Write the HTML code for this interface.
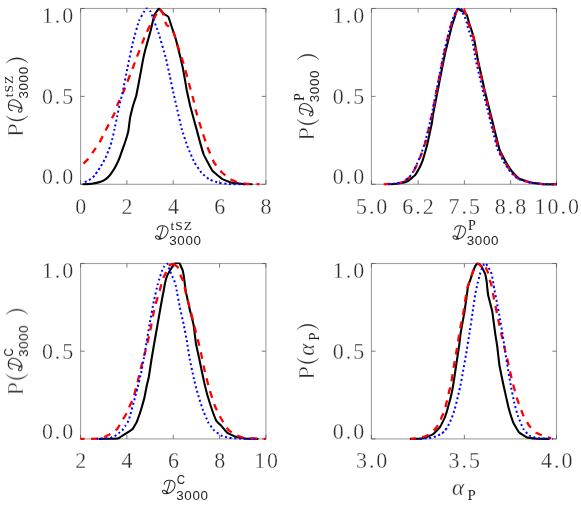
<!DOCTYPE html>
<html><head><meta charset="utf-8"><title>posteriors</title>
<style>html,body{margin:0;padding:0;background:#fff;}svg{display:block;}.t text{font-family:'Liberation Serif', serif;fill:#2a2a2a;stroke:#fff;stroke-width:0.3;}.t .sf{font-family:'Liberation Sans', sans-serif;stroke:none;fill:#242424;}.t .sm{stroke:none;fill:#1e1e1e;}.t .bp{stroke-width:0.6;}</style>
</head><body>
<svg width="581" height="508" viewBox="0 0 581 508">
<rect width="581" height="508" fill="#fff"/>
<defs>
<filter id="gray" filterUnits="userSpaceOnUse" x="0" y="0" width="581" height="508" color-interpolation-filters="sRGB"><feColorMatrix type="saturate" values="0"/></filter>
<path id="sD" fill="none" stroke="#2a2a2a" stroke-width="1.05" stroke-linecap="round" stroke-linejoin="round" d="M2.39,4.78 C2.11,2.55 4.16,0.87 7.32,0.78 C10.67,0.69 13.27,2.55 13.18,5.71 C13.08,9.43 9.92,13.15 6.02,14.08 C3.60,14.64 1.09,14.08 0.62,12.50 C0.34,11.29 1.55,10.54 2.76,11.10 C4.16,11.75 4.90,13.15 6.39,13.71 M8.25,1.06 C7.69,4.22 6.39,9.06 4.34,13.89"/>
<path id="pL" fill="#2a2a2a" stroke="#2a2a2a" stroke-width="0.3" stroke-linejoin="round" d="M5.20,-16.90 C-1.77,-11.26 -1.77,-0.64 5.20,5.00 C-0.24,-0.64 -0.24,-11.26 5.20,-16.90Z"/>
<path id="pR" fill="#2a2a2a" stroke="#2a2a2a" stroke-width="0.3" stroke-linejoin="round" d="M0,-16.90 C6.97,-11.26 6.97,-0.64 0,5.00 C5.44,-0.64 5.44,-11.26 0,-16.90Z"/>
</defs>
<rect x="80.56" y="8.50" width="185.34" height="175.80" fill="none" stroke="#a2a2a2" stroke-width="1.15"/>
<path d="M80.56,8.50v4.1M80.56,184.30v-4.1M126.89,8.50v4.1M126.89,184.30v-4.1M173.23,8.50v4.1M173.23,184.30v-4.1M219.56,8.50v4.1M219.56,184.30v-4.1M265.90,8.50v4.1M265.90,184.30v-4.1M80.56,8.50h4.1M265.90,8.50h-4.1M80.56,96.40h4.1M265.90,96.40h-4.1M80.56,184.30h4.1M265.90,184.30h-4.1" fill="none" stroke="#5c5c5c" stroke-width="0.8"/>
<rect x="371.45" y="8.50" width="185.05" height="175.80" fill="none" stroke="#a2a2a2" stroke-width="1.15"/>
<path d="M371.45,8.50v4.1M371.45,184.30v-4.1M418.11,8.50v4.1M418.11,184.30v-4.1M464.38,8.50v4.1M464.38,184.30v-4.1M510.64,8.50v4.1M510.64,184.30v-4.1M556.50,8.50v4.1M556.50,184.30v-4.1M371.45,8.50h4.1M556.50,8.50h-4.1M371.45,96.40h4.1M556.50,96.40h-4.1M371.45,184.30h4.1M556.50,184.30h-4.1" fill="none" stroke="#5c5c5c" stroke-width="0.8"/>
<rect x="80.56" y="263.50" width="185.34" height="175.40" fill="none" stroke="#a2a2a2" stroke-width="1.15"/>
<path d="M80.56,263.50v4.1M80.56,438.90v-4.1M126.89,263.50v4.1M126.89,438.90v-4.1M173.23,263.50v4.1M173.23,438.90v-4.1M219.56,263.50v4.1M219.56,438.90v-4.1M265.90,263.50v4.1M265.90,438.90v-4.1M80.56,263.50h4.1M265.90,263.50h-4.1M80.56,351.20h4.1M265.90,351.20h-4.1M80.56,438.90h4.1M265.90,438.90h-4.1" fill="none" stroke="#5c5c5c" stroke-width="0.8"/>
<rect x="371.45" y="263.50" width="185.05" height="175.40" fill="none" stroke="#a2a2a2" stroke-width="1.15"/>
<path d="M371.45,263.50v4.1M371.45,438.90v-4.1M464.38,263.50v4.1M464.38,438.90v-4.1M556.50,263.50v4.1M556.50,438.90v-4.1M371.45,263.50h4.1M556.50,263.50h-4.1M371.45,351.20h4.1M556.50,351.20h-4.1M371.45,438.90h4.1M556.50,438.90h-4.1" fill="none" stroke="#5c5c5c" stroke-width="0.8"/>
<clipPath id="cp1"><rect x="79.6" y="7.6" width="186.9" height="178.1"/></clipPath>
<g fill="none" stroke-linejoin="round" clip-path="url(#cp1)">
<path stroke="#000" stroke-width="2.1" stroke-linecap="round" d="M83.4,184.3 C83.7,184.3 91.1,183.9 91.8,183.8 C92.5,183.7 100.1,182.0 100.7,181.8 C101.3,181.6 105.7,179.2 106.1,178.9 C106.5,178.6 110.2,174.8 110.5,174.4 C110.8,174.0 114.1,169.0 114.4,168.5 C114.7,168.0 117.6,162.3 117.9,161.7 C118.2,161.1 121.1,153.4 121.3,152.8 C121.5,152.2 123.6,146.4 123.8,145.9 C124.0,145.4 125.6,140.6 125.8,140.0 C126.0,139.4 128.1,132.2 128.3,131.3 C128.5,130.4 129.9,118.6 130.1,117.6 C130.3,116.6 132.5,107.6 132.7,106.7 C132.9,105.8 136.0,96.9 136.3,95.5 C136.6,94.1 140.7,72.7 141.0,70.9 C141.3,69.1 144.5,52.8 144.9,51.2 C145.3,49.6 149.9,33.4 150.3,32.0 C150.7,30.6 154.0,16.0 154.3,15.1 C154.6,14.2 158.5,8.6 158.9,8.6 C159.3,8.6 163.9,13.8 164.3,14.1 C164.7,14.4 168.1,16.3 168.4,16.9 C168.7,17.5 172.3,28.7 172.6,29.6 C172.9,30.5 175.6,38.2 175.9,39.4 C176.2,40.6 180.4,57.5 180.8,59.1 C181.2,60.7 184.6,77.6 184.8,78.8 C185.0,80.0 186.5,88.9 186.7,90.0 C186.9,91.1 189.8,104.4 190.2,106.0 C190.6,107.6 196.1,127.5 196.6,129.4 C197.1,131.3 202.9,152.3 203.5,154.0 C204.1,155.7 211.6,169.7 212.3,170.7 C213.0,171.7 221.5,178.5 222.2,179.0 C222.9,179.5 230.3,182.3 231.0,182.5 C231.7,182.7 240.1,183.6 240.9,183.7 C241.7,183.8 251.3,184.3 251.7,184.3"/>
<path stroke="#ff0000" stroke-width="2.3" stroke-dasharray="6.9 6.5" stroke-dashoffset="0.0" d="M83.5,163.6 C83.7,163.4 88.0,159.1 88.4,158.7 C88.8,158.3 92.0,153.4 92.3,153.0 C92.6,152.6 95.4,148.5 95.7,148.1 C96.0,147.7 99.3,142.9 99.7,142.2 C100.1,141.5 104.9,131.7 105.5,130.6 C106.1,129.5 113.9,114.7 114.4,113.6 C114.9,112.5 117.6,104.4 118.0,103.5 C118.4,102.6 123.5,91.7 124.2,90.0 C124.9,88.3 134.2,64.2 135.0,62.0 C135.8,59.8 144.3,37.6 145.0,36.0 C145.7,34.4 151.5,22.1 151.9,21.3 C152.3,20.5 154.7,17.3 155.0,16.8 C155.3,16.3 159.0,8.9 159.4,8.8 C159.8,8.7 163.6,14.7 163.8,15.2 C164.0,15.7 165.3,21.5 165.4,21.9 C165.5,22.3 166.7,25.1 166.8,25.3 C166.9,25.5 168.7,26.5 169.0,26.7 C169.3,26.9 172.9,30.6 173.3,31.5 C173.7,32.4 178.5,48.1 178.9,49.3 C179.3,50.5 182.4,59.9 182.8,61.1 C183.2,62.3 187.3,77.2 187.7,78.8 C188.1,80.4 193.3,99.3 193.6,100.5 C193.9,101.7 195.3,108.5 195.6,109.7 C195.9,110.9 201.0,127.9 201.5,129.4 C202.0,130.9 206.9,145.8 207.4,147.1 C207.9,148.4 213.7,161.8 214.3,162.8 C214.9,163.8 220.6,171.1 221.2,171.7 C221.8,172.3 228.4,178.2 229.0,178.6 C229.6,179.0 236.3,181.9 236.9,182.1 C237.5,182.3 243.9,183.6 244.8,183.7 C245.7,183.8 259.0,184.3 259.6,184.3"/>
<path stroke="#0000ff" stroke-width="2.0" stroke-dasharray="2 2.7" stroke-dashoffset="3.5" d="M83.7,182.5 C83.9,182.4 87.4,181.0 87.7,180.8 C88.0,180.6 91.5,178.8 91.8,178.6 C92.1,178.4 94.6,175.2 94.8,174.9 C95.0,174.6 97.3,171.8 97.5,171.5 C97.7,171.2 99.8,167.9 100.0,167.6 C100.2,167.3 102.2,163.9 102.4,163.6 C102.6,163.3 104.6,159.8 104.8,159.5 C105.0,159.2 106.5,155.6 106.6,155.3 C106.7,155.0 108.2,151.3 108.3,151.0 C108.4,150.7 109.9,147.1 110.0,146.7 C110.1,146.3 111.3,142.9 111.5,142.2 C111.7,141.5 114.2,130.9 114.4,129.8 C114.6,128.7 117.1,116.7 117.3,115.6 C117.5,114.5 119.8,103.9 120.0,103.0 C120.2,102.1 122.4,93.4 122.7,92.0 C123.0,90.6 127.2,69.0 127.6,67.0 C128.0,65.0 132.6,43.3 133.1,41.4 C133.6,39.5 138.5,22.0 139.0,20.7 C139.5,19.4 145.6,9.1 145.9,8.6 C146.2,8.1 147.3,8.3 147.5,8.4 C147.7,8.5 150.4,10.9 150.8,11.9 C151.2,12.9 158.1,31.7 158.7,33.5 C159.3,35.3 165.1,55.4 165.6,57.1 C166.1,58.8 169.7,75.5 170.0,76.8 C170.3,78.1 172.5,88.8 172.8,90.0 C173.1,91.2 176.0,104.4 176.4,106.0 C176.8,107.6 181.3,127.8 181.8,129.4 C182.3,131.0 187.2,145.8 187.7,147.1 C188.2,148.4 194.0,161.8 194.6,162.8 C195.2,163.8 200.9,172.0 201.5,172.7 C202.1,173.4 208.7,179.2 209.4,179.6 C210.1,180.0 218.4,182.7 219.2,182.9 C220.0,183.1 228.0,184.0 229.0,184.1 C230.0,184.2 244.2,184.4 244.8,184.4"/>
</g>
<clipPath id="cp2"><rect x="370.4" y="7.6" width="186.7" height="178.1"/></clipPath>
<g fill="none" stroke-linejoin="round" clip-path="url(#cp2)">
<path stroke="#000" stroke-width="2.1" stroke-linecap="round" d="M390.6,184.2 C391.0,184.2 399.3,183.4 400.0,183.3 C400.7,183.2 406.9,181.6 407.5,181.3 C408.1,181.0 414.6,175.7 415.1,175.1 C415.6,174.5 420.2,166.3 420.6,165.5 C421.0,164.7 423.9,156.6 424.1,155.8 C424.3,155.0 426.6,147.0 426.8,146.2 C427.0,145.4 429.1,136.1 429.3,135.2 C429.5,134.3 431.5,125.0 431.7,124.1 C431.9,123.2 433.0,114.7 433.2,113.6 C433.4,112.5 436.4,97.3 436.7,95.9 C437.0,94.5 439.7,80.5 440.0,78.8 C440.3,77.1 444.7,55.1 445.1,53.2 C445.5,51.3 450.0,33.3 450.3,32.0 C450.6,30.7 453.5,20.7 453.8,19.9 C454.1,19.1 456.4,11.5 456.6,11.0 C456.8,10.5 458.1,8.6 458.3,8.6 C458.5,8.6 460.5,10.5 460.7,10.6 C460.9,10.7 463.9,11.8 464.1,12.0 C464.3,12.2 466.7,14.7 466.9,15.1 C467.1,15.5 468.8,22.0 469.0,22.7 C469.2,23.4 471.9,31.3 472.1,32.0 C472.3,32.7 474.0,38.3 474.2,39.4 C474.4,40.5 477.4,57.6 477.7,59.1 C478.0,60.6 481.4,75.6 481.7,76.8 C482.0,78.0 484.3,89.0 484.6,90.3 C484.9,91.6 489.1,108.1 489.5,109.7 C489.9,111.3 494.0,127.8 494.4,129.4 C494.8,131.0 499.0,147.8 499.4,149.1 C499.8,150.4 504.8,160.0 505.3,160.9 C505.8,161.8 511.6,171.0 512.2,171.7 C512.8,172.4 518.6,178.2 519.1,178.6 C519.6,179.0 524.5,180.4 525.0,180.6 C525.5,180.8 532.1,182.8 532.8,182.9 C533.5,183.0 541.8,184.0 542.7,184.1 C543.6,184.2 555.9,184.4 556.5,184.4"/>
<path stroke="#ff0000" stroke-width="2.3" stroke-dasharray="6.9 6.5" stroke-dashoffset="13.3" d="M383.7,184.3 C384.2,184.3 394.2,183.7 395.0,183.6 C395.8,183.5 402.4,182.4 402.7,182.3"/>
<path stroke="#ff0000" stroke-width="2.3" stroke-dasharray="6.9 6.5" stroke-dashoffset="10.8" d="M402.7,182.3 C403.0,182.1 409.2,177.6 409.6,177.2 C410.0,176.8 412.8,172.8 413.1,172.3 C413.4,171.8 416.9,164.8 417.2,164.1 C417.5,163.4 421.0,155.3 421.3,154.4 C421.6,153.5 425.2,143.0 425.5,142.0 C425.8,141.0 428.7,129.1 428.9,128.3 C429.1,127.5 430.2,122.7 430.3,122.1 C430.4,121.5 432.0,114.6 432.2,113.6 C432.4,112.6 435.4,97.3 435.7,95.9 C436.0,94.5 438.7,80.5 439.0,78.8 C439.3,77.1 443.7,55.1 444.1,53.2 C444.5,51.3 448.9,33.3 449.2,32.0 C449.5,30.7 452.4,20.2 452.6,19.5 C452.8,18.8 454.6,15.2 454.8,14.8 C455.0,14.4 457.4,10.5 457.6,10.3 C457.8,10.1 459.3,8.8 459.5,8.7 C459.7,8.6 463.5,8.6 463.8,8.9 C464.1,9.2 466.0,14.6 466.2,15.1 C466.4,15.6 467.4,21.5 467.6,22.0 C467.8,22.5 469.8,27.0 470.0,27.5 C470.2,28.0 472.3,33.5 472.5,34.0 C472.7,34.5 474.1,40.0 474.3,41.0 C474.5,42.0 477.0,58.1 477.3,59.5 C477.6,60.9 480.9,75.8 481.2,77.0 C481.5,78.2 483.8,89.2 484.1,90.5 C484.4,91.8 488.4,108.4 488.8,110.0 C489.2,111.6 493.2,128.4 493.6,130.0 C494.0,131.6 498.1,147.7 498.5,149.0 C498.9,150.3 503.9,160.6 504.4,161.5 C504.9,162.4 510.7,171.5 511.3,172.2 C511.9,172.9 517.7,178.4 518.2,178.8 C518.7,179.2 524.4,181.0 525.0,181.2 C525.6,181.4 532.1,183.0 532.8,183.1 C533.5,183.2 541.8,184.0 542.7,184.1 C543.6,184.2 555.9,184.4 556.5,184.4"/>
<path stroke="#0000ff" stroke-width="2.0" stroke-dasharray="2 2.7" stroke-dashoffset="2.4" d="M386.0,184.3 C386.4,184.3 394.3,183.7 395.0,183.6 C395.7,183.5 401.8,182.6 402.4,182.3 C403.0,182.0 408.9,177.6 409.3,177.2 C409.7,176.8 412.5,172.8 412.8,172.3 C413.1,171.8 416.6,164.8 416.9,164.1 C417.2,163.4 420.7,155.3 421.0,154.4 C421.3,153.5 424.9,143.0 425.2,142.0 C425.5,141.0 428.4,129.1 428.6,128.3 C428.8,127.5 429.9,122.7 430.0,122.1 C430.1,121.5 431.7,114.6 431.9,113.6 C432.1,112.6 435.1,97.3 435.4,95.9 C435.7,94.5 438.4,80.5 438.7,78.8 C439.0,77.1 443.4,55.1 443.8,53.2 C444.2,51.3 448.5,33.0 448.8,32.0 C449.1,31.0 450.3,27.5 450.4,27.0 C450.5,26.5 452.0,21.0 452.1,20.6 C452.2,20.2 453.7,16.5 453.8,16.2 C453.9,15.9 455.3,12.7 455.5,12.4 C455.7,12.1 457.7,9.0 457.9,8.9 C458.1,8.8 461.2,8.7 461.4,8.9 C461.6,9.1 462.9,13.3 463.1,13.7 C463.3,14.1 465.1,17.6 465.2,17.9 C465.3,18.2 466.5,22.0 466.6,22.3 C466.7,22.6 467.5,26.2 467.6,26.5 C467.7,26.8 468.8,30.5 469.0,31.0 C469.2,31.5 472.0,38.9 472.3,40.0 C472.6,41.1 475.3,58.0 475.6,59.5 C475.9,61.0 479.4,75.8 479.7,77.0 C480.0,78.2 482.4,89.2 482.7,90.5 C483.0,91.8 487.2,108.4 487.6,110.0 C488.0,111.6 492.1,128.4 492.5,130.0 C492.9,131.6 497.1,147.7 497.5,149.0 C497.9,150.3 503.1,160.6 503.6,161.5 C504.1,162.4 510.0,171.5 510.6,172.2 C511.2,172.9 517.2,178.4 517.8,178.8 C518.4,179.2 524.4,181.0 525.0,181.2 C525.6,181.4 532.1,183.0 532.8,183.1 C533.5,183.2 541.8,184.0 542.7,184.1 C543.6,184.2 555.9,184.4 556.5,184.4"/>
</g>
<clipPath id="cp3"><rect x="79.6" y="262.6" width="186.9" height="177.7"/></clipPath>
<g fill="none" stroke-linejoin="round" clip-path="url(#cp3)">
<path stroke="#000" stroke-width="2.1" stroke-linecap="round" d="M99.6,438.9 C100.1,438.9 111.2,438.7 112.0,438.7 C112.8,438.7 118.3,438.4 118.6,438.3 C118.9,438.2 120.1,437.2 120.4,437.0 C120.7,436.8 126.4,433.1 126.9,432.8 C127.4,432.5 132.4,429.1 132.8,428.7 C133.2,428.3 136.6,422.4 136.9,421.6 C137.2,420.8 140.7,410.8 141.0,409.8 C141.3,408.8 144.4,397.8 144.6,396.8 C144.8,395.8 146.7,385.8 146.9,385.0 C147.1,384.2 148.6,378.0 148.8,377.0 C149.0,376.0 151.2,361.3 151.4,360.0 C151.6,358.7 153.9,345.4 154.1,344.0 C154.3,342.6 157.3,326.3 157.5,324.9 C157.7,323.5 159.9,311.2 160.1,310.0 C160.3,308.8 162.6,295.9 162.8,295.0 C163.0,294.1 164.2,287.8 164.3,287.1 C164.4,286.4 166.2,278.4 166.4,277.7 C166.6,277.0 169.5,271.3 169.8,270.8 C170.1,270.3 173.4,264.9 173.6,264.6 C173.8,264.3 175.1,263.1 175.3,263.0 C175.5,262.9 178.9,262.9 179.1,263.0 C179.3,263.1 180.1,264.3 180.2,264.6 C180.3,264.9 182.4,269.6 182.6,270.1 C182.8,270.6 183.9,277.0 184.0,277.7 C184.1,278.4 185.1,286.4 185.2,287.0 C185.3,287.6 185.8,291.6 186.0,292.5 C186.2,293.4 189.4,307.9 189.7,309.2 C190.0,310.5 193.4,323.5 193.6,324.9 C193.8,326.3 195.7,341.9 195.9,343.3 C196.1,344.7 199.2,358.4 199.5,360.0 C199.8,361.6 204.0,381.6 204.4,383.4 C204.8,385.2 209.9,403.5 210.4,405.0 C210.9,406.5 215.9,420.0 216.3,420.8 C216.7,421.6 220.8,425.2 221.2,425.7 C221.6,426.2 226.5,432.2 227.1,432.6 C227.7,433.0 234.3,436.3 235.0,436.5 C235.7,436.7 243.9,438.4 244.8,438.5 C245.7,438.6 257.1,438.9 257.6,438.9"/>
<path stroke="#ff0000" stroke-width="2.3" stroke-dasharray="6.9 6.5" stroke-dashoffset="2.9" d="M80.5,438.9 C81.3,438.9 98.9,438.7 100.0,438.6 C101.1,438.5 106.3,436.0 106.8,435.8 C107.3,435.6 112.3,433.1 112.7,432.8 C113.1,432.5 117.1,429.1 117.4,428.7 C117.7,428.3 120.7,423.3 121.0,422.8 C121.3,422.3 124.2,417.3 124.5,416.9 C124.8,416.5 127.3,412.0 127.5,411.6 C127.7,411.2 129.6,406.2 129.8,405.7 C130.0,405.2 132.6,400.3 132.8,399.8 C133.0,399.3 134.4,393.9 134.6,393.3 C134.8,392.7 136.7,385.4 137.0,384.4 C137.3,383.4 140.7,368.9 141.0,367.6 C141.3,366.3 144.5,354.4 144.9,353.0 C145.3,351.6 149.4,334.6 149.8,332.8 C150.2,331.0 154.3,308.9 154.7,307.2 C155.1,305.5 159.4,291.7 159.7,290.5 C160.0,289.3 163.0,278.4 163.3,277.7 C163.6,277.0 165.8,273.0 166.0,272.5 C166.2,272.0 168.8,266.4 169.1,266.0 C169.4,265.6 172.7,263.4 172.9,263.3"/>
<path stroke="#ff0000" stroke-width="2.3" stroke-dasharray="6.9 6.5" stroke-dashoffset="12.8" d="M172.9,263.3 C173.1,263.5 177.5,266.8 177.8,267.3 C178.1,267.8 180.0,274.1 180.2,274.6 C180.4,275.1 182.4,279.3 182.6,279.8 C182.8,280.3 184.4,286.0 184.5,286.5 C184.6,287.0 185.7,292.4 185.9,293.4 C186.1,294.4 190.4,309.8 190.7,311.1 C191.0,312.4 194.3,325.6 194.6,326.9 C194.9,328.2 198.2,341.5 198.5,342.6 C198.8,343.7 201.3,354.3 201.5,355.4 C201.7,356.5 204.1,368.2 204.4,369.6 C204.7,371.0 209.0,387.8 209.4,389.3 C209.8,390.8 214.8,405.8 215.3,407.0 C215.8,408.2 220.7,417.9 221.2,418.8 C221.7,419.7 227.5,429.0 228.1,429.6 C228.7,430.2 234.4,434.6 235.0,434.9 C235.6,435.2 242.1,437.4 242.8,437.5 C243.5,437.6 251.8,438.4 252.7,438.5 C253.6,438.6 265.5,438.9 266.0,438.9"/>
<path stroke="#0000ff" stroke-width="2.0" stroke-dasharray="2 2.7" stroke-dashoffset="0.4" d="M96.7,438.9 C97.1,438.9 105.5,438.5 106.0,438.5 C106.5,438.5 110.0,438.0 110.3,437.9 C110.6,437.8 114.2,436.6 114.5,436.4 C114.8,436.2 118.3,433.6 118.6,433.4 C118.9,433.2 121.9,430.8 122.2,430.5 C122.5,430.2 124.9,426.6 125.1,426.3 C125.3,426.0 127.3,423.1 127.5,422.8 C127.7,422.5 129.1,418.9 129.2,418.6 C129.3,418.3 130.3,414.8 130.4,414.5 C130.5,414.2 131.5,410.4 131.6,410.0 C131.7,409.6 132.7,406.0 132.8,405.7 C132.9,405.4 133.9,401.9 134.0,401.5 C134.1,401.1 135.0,397.2 135.1,396.8 C135.2,396.4 136.2,392.7 136.3,392.3 C136.4,391.9 137.3,388.8 137.5,388.0 C137.7,387.2 140.7,374.7 141.0,373.5 C141.3,372.3 143.5,360.0 143.9,358.0 C144.3,356.0 149.4,325.3 149.8,323.0 C150.2,320.7 153.5,302.9 153.8,301.3 C154.1,299.7 157.6,284.8 157.8,283.9 C158.0,283.0 159.0,279.9 159.1,279.6 C159.2,279.3 160.4,275.7 160.5,275.3 C160.6,274.9 161.9,271.1 162.0,270.8 C162.1,270.5 163.8,267.0 164.0,266.7 C164.2,266.4 167.1,263.5 167.3,263.6 C167.5,263.7 168.7,267.6 168.8,268.0 C168.9,268.4 170.5,272.3 170.7,272.7 C170.9,273.1 172.5,276.7 172.6,277.0 C172.7,277.3 174.3,280.8 174.4,281.1 C174.5,281.4 175.6,284.9 175.7,285.3 C175.8,285.7 176.4,289.1 176.6,290.0 C176.8,290.9 179.5,305.8 179.8,307.2 C180.1,308.6 183.5,323.5 183.8,324.9 C184.1,326.3 186.8,340.6 187.0,342.0 C187.2,343.4 189.4,357.6 189.7,359.0 C190.0,360.4 193.3,376.1 193.6,377.5 C193.9,378.9 197.2,391.9 197.6,393.2 C198.0,394.5 202.1,407.8 202.5,409.0 C202.9,410.2 207.9,421.8 208.4,422.7 C208.9,423.6 213.8,430.1 214.3,430.6 C214.8,431.1 220.6,435.2 221.2,435.5 C221.8,435.8 228.3,437.8 229.1,437.9 C229.9,438.0 239.8,438.7 240.9,438.7 C242.0,438.7 256.0,438.9 256.6,438.9"/>
</g>
<clipPath id="cp4"><rect x="370.4" y="262.6" width="186.7" height="177.7"/></clipPath>
<g fill="none" stroke-linejoin="round" clip-path="url(#cp4)">
<path stroke="#000" stroke-width="2.1" stroke-linecap="round" d="M410.8,438.9 C411.3,438.9 422.1,438.5 423.0,438.3 C423.9,438.1 432.0,434.8 432.7,434.4 C433.4,434.0 439.4,427.9 439.9,427.2 C440.4,426.5 444.5,418.3 444.8,417.5 C445.1,416.7 447.6,408.7 447.8,407.9 C448.0,407.1 450.6,397.9 450.8,397.0 C451.0,396.1 453.0,386.3 453.2,385.0 C453.4,383.7 455.9,367.3 456.1,365.7 C456.3,364.1 458.9,347.3 459.1,346.0 C459.3,344.7 460.5,334.2 460.7,332.8 C460.9,331.4 464.3,312.9 464.6,311.1 C464.9,309.3 467.7,288.4 467.9,287.1 C468.1,285.8 470.1,280.4 470.3,279.8 C470.5,279.2 472.9,272.1 473.1,271.5 C473.3,270.9 475.3,265.9 475.5,265.6 C475.7,265.3 477.7,263.2 477.9,263.2 C478.1,263.2 480.5,265.0 480.7,265.3 C480.9,265.6 483.2,269.7 483.4,270.1 C483.6,270.5 485.4,274.5 485.5,274.9 C485.6,275.3 486.5,280.6 486.6,281.1 C486.7,281.6 487.1,286.5 487.2,287.1 C487.3,287.7 488.0,294.4 488.2,295.4 C488.4,296.4 491.9,309.6 492.2,311.1 C492.5,312.6 494.9,331.4 495.1,332.8 C495.3,334.2 497.0,344.7 497.2,346.0 C497.4,347.3 499.2,364.1 499.5,365.7 C499.8,367.3 503.1,383.6 503.5,385.3 C503.9,387.0 508.0,405.5 508.4,407.0 C508.8,408.5 512.9,421.7 513.3,422.7 C513.7,423.7 518.6,432.0 519.2,432.6 C519.8,433.2 526.4,437.3 527.1,437.5 C527.8,437.7 536.0,438.7 536.9,438.8 C537.8,438.9 548.2,438.9 548.7,438.9"/>
<path stroke="#ff0000" stroke-width="2.3" stroke-dasharray="6.9 6.5" stroke-dashoffset="1.9" d="M410.8,438.9 C411.1,438.9 418.3,438.1 418.9,438.0 C419.5,437.9 425.0,436.4 425.5,436.2 C426.0,436.0 429.9,434.1 430.3,433.8 C430.7,433.5 434.7,429.4 435.1,429.0 C435.5,428.6 439.0,424.1 439.3,423.6 C439.6,423.1 441.5,417.4 441.7,416.9 C441.9,416.4 444.6,411.4 444.8,410.9 C445.0,410.4 445.9,404.8 446.0,404.3 C446.1,403.8 447.7,398.8 447.8,398.3 C447.9,397.8 448.9,392.1 449.0,391.6 C449.1,391.1 450.6,386.5 450.8,385.6 C451.0,384.7 453.2,370.4 453.4,369.0 C453.6,367.6 456.3,352.0 456.6,350.5 C456.9,349.0 459.4,332.5 459.7,330.9 C460.0,329.3 463.3,312.7 463.6,311.1 C463.9,309.5 466.4,292.4 466.6,291.4 C466.8,290.4 467.8,286.5 467.9,286.0 C468.0,285.5 470.1,279.6 470.3,279.0 C470.5,278.4 472.9,271.5 473.1,271.0 C473.3,270.5 475.3,265.7 475.5,265.4 C475.7,265.1 477.1,263.2 477.4,263.3 C477.7,263.4 481.9,266.9 482.1,267.0"/>
<path stroke="#ff0000" stroke-width="2.3" stroke-dasharray="6.9 6.5" stroke-dashoffset="10.0" d="M482.1,267.0 C482.2,267.0 485.3,267.1 485.5,267.3 C485.7,267.5 487.7,272.0 487.9,272.5 C488.1,273.0 489.6,279.3 489.7,279.8 C489.8,280.3 491.2,284.1 491.4,284.9 C491.6,285.7 493.8,297.9 494.1,299.3 C494.4,300.7 497.8,317.5 498.1,319.0 C498.4,320.5 501.7,335.5 502.0,336.7 C502.3,337.9 504.7,348.9 505.0,350.0 C505.3,351.1 508.1,362.4 508.4,363.7 C508.7,365.0 511.9,380.0 512.3,381.4 C512.7,382.8 516.8,397.8 517.2,399.1 C517.6,400.4 522.6,413.8 523.1,414.9 C523.6,416.0 528.6,425.0 529.1,425.7 C529.6,426.4 535.3,432.2 535.9,432.6 C536.5,433.0 543.2,435.9 543.8,436.1 C544.4,436.3 550.9,438.1 551.2,438.2"/>
<path stroke="#0000ff" stroke-width="2.0" stroke-dasharray="2 2.7" stroke-dashoffset="4.5" d="M419.7,438.9 C420.1,438.9 428.6,438.1 429.1,438.0 C429.6,437.9 433.0,437.5 433.3,437.4 C433.6,437.3 437.2,435.7 437.5,435.6 C437.8,435.5 441.4,434.0 441.7,433.8 C442.0,433.6 444.8,430.8 445.0,430.5 C445.2,430.2 447.6,426.9 447.8,426.6 C448.0,426.3 449.6,422.6 449.8,422.3 C450.0,422.0 451.6,418.4 451.7,418.1 C451.8,417.8 453.1,414.2 453.2,413.9 C453.3,413.6 454.5,410.1 454.6,409.7 C454.7,409.3 455.7,405.3 455.8,404.9 C455.9,404.5 456.9,400.8 457.0,400.4 C457.1,400.0 457.9,396.5 458.0,396.1 C458.1,395.7 458.9,392.0 459.0,391.6 C459.1,391.2 459.9,388.0 460.1,387.2 C460.3,386.4 462.8,372.9 463.0,371.6 C463.2,370.3 465.6,357.0 465.9,355.4 C466.2,353.8 469.2,334.5 469.5,332.8 C469.8,331.1 472.3,314.7 472.5,313.1 C472.7,311.5 475.2,294.5 475.4,293.4 C475.6,292.3 476.8,287.1 476.9,286.7 C477.0,286.3 477.7,282.8 477.8,282.5 C477.9,282.2 478.9,278.4 479.0,278.0 C479.1,277.6 480.0,274.0 480.1,273.6 C480.2,273.2 481.5,269.5 481.7,269.1 C481.9,268.7 483.9,264.4 484.1,264.2 C484.3,264.0 485.7,263.1 485.9,263.2 C486.1,263.3 487.7,266.7 487.9,267.0 C488.1,267.3 490.5,270.8 490.7,271.1 C490.9,271.4 491.8,275.1 491.9,275.5 C492.0,275.9 492.7,279.7 492.8,280.1 C492.9,280.5 493.5,284.3 493.6,284.6 C493.7,284.9 494.1,287.8 494.2,288.5 C494.3,289.2 496.9,302.1 497.1,303.3 C497.3,304.5 499.8,317.7 500.0,319.0 C500.2,320.3 502.8,335.4 503.0,336.7 C503.2,338.0 505.0,350.8 505.2,352.0 C505.4,353.2 507.2,364.4 507.4,365.7 C507.6,367.0 510.1,381.9 510.4,383.4 C510.7,384.9 514.0,401.8 514.3,403.1 C514.6,404.4 517.8,415.8 518.2,416.8 C518.6,417.8 522.7,427.9 523.1,428.6 C523.5,429.3 528.5,435.1 529.1,435.5 C529.7,435.9 536.0,438.0 536.9,438.1 C537.8,438.2 552.1,438.9 552.7,438.9"/>
</g>
<g class="t" filter="url(#gray)">
<text transform="translate(41.9,22.9) scale(0.98,1)" font-size="22.4" letter-spacing="2.0">1.0</text>
<text transform="translate(41.9,104.1) scale(0.98,1)" font-size="22.4" letter-spacing="2.0">0.5</text>
<text transform="translate(41.9,184.4) scale(0.98,1)" font-size="22.4" letter-spacing="2.0">0.0</text>
<text transform="translate(80.8,214.1) scale(0.98,1)" font-size="22.4" text-anchor="middle" letter-spacing="0.0">0</text>
<text transform="translate(127.1,214.1) scale(0.98,1)" font-size="22.4" text-anchor="middle" letter-spacing="0.0">2</text>
<text transform="translate(173.4,214.1) scale(0.98,1)" font-size="22.4" text-anchor="middle" letter-spacing="0.0">4</text>
<text transform="translate(219.8,214.1) scale(0.98,1)" font-size="22.4" text-anchor="middle" letter-spacing="0.0">6</text>
<text transform="translate(266.1,214.1) scale(0.98,1)" font-size="22.4" text-anchor="middle" letter-spacing="0.0">8</text>
<text transform="translate(332.8,22.9) scale(0.98,1)" font-size="22.4" letter-spacing="2.0">1.0</text>
<text transform="translate(332.8,104.1) scale(0.98,1)" font-size="22.4" letter-spacing="2.0">0.5</text>
<text transform="translate(332.8,184.4) scale(0.98,1)" font-size="22.4" letter-spacing="2.0">0.0</text>
<text transform="translate(372.6,214.1) scale(0.98,1)" font-size="22.4" text-anchor="middle" letter-spacing="2.0">5.0</text>
<text transform="translate(418.9,214.1) scale(0.98,1)" font-size="22.4" text-anchor="middle" letter-spacing="2.0">6.2</text>
<text transform="translate(465.2,214.1) scale(0.98,1)" font-size="22.4" text-anchor="middle" letter-spacing="2.0">7.5</text>
<text transform="translate(511.4,214.1) scale(0.98,1)" font-size="22.4" text-anchor="middle" letter-spacing="2.0">8.8</text>
<text transform="translate(557.7,214.1) scale(0.98,1)" font-size="22.4" text-anchor="middle" letter-spacing="2.0">10.0</text>
<text transform="translate(41.9,277.9) scale(0.98,1)" font-size="22.4" letter-spacing="2.0">1.0</text>
<text transform="translate(41.9,358.9) scale(0.98,1)" font-size="22.4" letter-spacing="2.0">0.5</text>
<text transform="translate(41.9,439.0) scale(0.98,1)" font-size="22.4" letter-spacing="2.0">0.0</text>
<text transform="translate(80.8,468.4) scale(0.98,1)" font-size="22.4" text-anchor="middle" letter-spacing="0.0">2</text>
<text transform="translate(127.1,468.4) scale(0.98,1)" font-size="22.4" text-anchor="middle" letter-spacing="0.0">4</text>
<text transform="translate(173.4,468.4) scale(0.98,1)" font-size="22.4" text-anchor="middle" letter-spacing="0.0">6</text>
<text transform="translate(219.8,468.4) scale(0.98,1)" font-size="22.4" text-anchor="middle" letter-spacing="0.0">8</text>
<text transform="translate(267.0,468.4) scale(0.98,1)" font-size="22.4" text-anchor="middle" letter-spacing="1.9">10</text>
<text transform="translate(332.8,277.9) scale(0.98,1)" font-size="22.4" letter-spacing="2.0">1.0</text>
<text transform="translate(332.8,358.9) scale(0.98,1)" font-size="22.4" letter-spacing="2.0">0.5</text>
<text transform="translate(332.8,439.0) scale(0.98,1)" font-size="22.4" letter-spacing="2.0">0.0</text>
<text transform="translate(372.6,468.4) scale(0.98,1)" font-size="22.4" text-anchor="middle" letter-spacing="2.0">3.0</text>
<text transform="translate(465.2,468.4) scale(0.98,1)" font-size="22.4" text-anchor="middle" letter-spacing="2.0">3.5</text>
<text transform="translate(557.7,468.4) scale(0.98,1)" font-size="22.4" text-anchor="middle" letter-spacing="2.0">4.0</text>
<use href="#sD" x="154.9" y="224.9"/>
<text class="sm" x="170.6" y="229.8" font-size="13.4" letter-spacing="1.0">tSZ</text>
<text class="sf" x="169.3" y="245.2" font-size="13.4" letter-spacing="0.6">3000</text>
<use href="#sD" x="452.4" y="224.9"/>
<text class="sm" x="468.1" y="229.8" font-size="14.0">P</text>
<text class="sf" x="466.8" y="245.2" font-size="13.4" letter-spacing="0.6">3000</text>
<use href="#sD" x="161.9" y="479.4"/>
<text class="sf" transform="translate(176.7,484.3) scale(0.86,1)" font-size="13.4">C</text>
<text class="sf" x="176.3" y="499.7" font-size="13.4" letter-spacing="0.6">3000</text>
<text x="452.0" y="494.8" font-size="23" font-style="italic">α</text>
<text class="sm" transform="translate(467.5,500.0) scale(1.06,1)" font-size="14.0">P</text>
<g transform="translate(23.0,136.4) rotate(-90)">
<text class="bp" transform="translate(-0.7,0.2) scale(1.09,1)" font-size="22.6">P</text>
<use href="#pL" x="15.4" y="0"/>
<use href="#sD" x="23.5" y="-15.4"/>
<text class="sm" x="39.2" y="-10.0" font-size="13.4" letter-spacing="1.0">tSZ</text>
<text class="sf" x="37.9" y="5.0" font-size="13.4" letter-spacing="0.6">3000</text>
<use href="#pR" x="73.4" y="0"/>
</g>
<g transform="translate(314.0,140.1) rotate(-90)">
<text class="bp" transform="translate(-0.7,0.2) scale(1.09,1)" font-size="22.6">P</text>
<use href="#pL" x="15.4" y="0"/>
<use href="#sD" x="23.5" y="-15.4"/>
<text class="sm" x="39.2" y="-10.0" font-size="14.0">P</text>
<text class="sf" x="37.9" y="5.0" font-size="13.4" letter-spacing="0.6">3000</text>
<use href="#pR" x="80.5" y="0"/>
</g>
<g transform="translate(23.0,394.8) rotate(-90)">
<text class="bp" transform="translate(-0.7,0.2) scale(1.09,1)" font-size="22.6">P</text>
<use href="#pL" x="15.4" y="0"/>
<use href="#sD" x="23.5" y="-15.4"/>
<text class="sf" transform="translate(38.3,-10.0) scale(0.86,1)" font-size="13.4">C</text>
<text class="sf" x="37.9" y="5.0" font-size="13.4" letter-spacing="0.6">3000</text>
<use href="#pR" x="80.5" y="0"/>
</g>
<g transform="translate(313.8,379.0) rotate(-90)">
<text class="bp" transform="translate(-0.7,0.2) scale(1.09,1)" font-size="22.6">P</text>
<use href="#pL" x="15.6" y="0"/>
<text x="23.3" y="0.2" font-size="23" font-style="italic">α</text>
<text class="sm" transform="translate(38.3,4.9) scale(1.06,1)" font-size="14.0">P</text>
<use href="#pR" x="49.4" y="0"/>
</g>
</g>
</svg></body></html>
